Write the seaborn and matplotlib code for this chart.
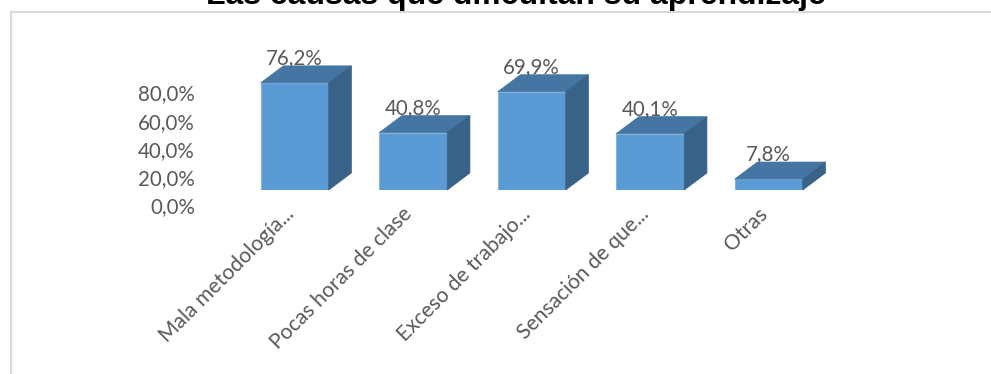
import matplotlib
matplotlib.use("Agg")
import matplotlib.pyplot as plt
from matplotlib.patches import Polygon
from matplotlib.lines import Line2D
from matplotlib.transforms import ScaledTranslation
import seaborn as sns

# Data
categories = ["Mala metodología...", "Pocas horas de clase", "Exceso de trabajo...",
              "Sensación de que...", "Otras"]
values = [76.2, 40.8, 69.9, 40.1, 7.8]
y_ticks = [0, 20, 40, 60, 80]
title = "Las causas que dificultan su aprendizaje"

# Colours
FRONT = "#5B9BD5"
TOP = "#4575A3"
SIDE = "#396289"
EDGE = "#86B3DE"
TEXT = "#595959"

W, H, DPI = 991, 374, 100
sns.set_theme(style="white")
plt.rcParams["font.family"] = ["Lato", "DejaVu Sans"]

fig = plt.figure(figsize=(W / DPI, H / DPI), dpi=DPI)
fig.patch.set_facecolor("white")

# plot box in pixels
left_px, right_px = 235.45, 828.0
base_px, px_per_pct = 190.0, 1.406
box_h = 100 * px_per_pct

ax = fig.add_axes([left_px / W, (H - base_px) / H, (right_px - left_px) / W, box_h / H])
ax.set_facecolor("none")

sns.barplot(x=categories, y=values, color=FRONT, saturation=1, width=0.574,
            edgecolor=EDGE, linewidth=0.8, ax=ax)
ax.set_xlim(-0.5, len(categories) - 0.5)
ax.set_ylim(0, 100)
for s in ax.spines.values():
    s.set_visible(False)
ax.set_yticks([])
ax.set_xlabel("")
ax.set_ylabel("")

# depth of the 3D boxes, in pixels -> data units
DEPTH_X_PX, DEPTH_Y_PX = 22.7, 17.0
x_unit_px = (right_px - left_px) / len(categories)
dx = DEPTH_X_PX / x_unit_px
dy = DEPTH_Y_PX / px_per_pct

for bar, v in zip(ax.patches, values):
    x0 = bar.get_x()
    x1 = x0 + bar.get_width()
    h = bar.get_height()
    top = Polygon([(x0, h), (x1, h), (x1 + dx, h + dy), (x0 + dx, h + dy)],
                  closed=True, facecolor=TOP, edgecolor=TOP, linewidth=0.5,
                  clip_on=False, zorder=3)
    side = Polygon([(x1, 0), (x1 + dx, dy), (x1 + dx, h + dy), (x1, h)],
                   closed=True, facecolor=SIDE, edgecolor=SIDE, linewidth=0.5,
                   clip_on=False, zorder=3)
    ax.add_patch(top)
    ax.add_patch(side)
    label = f"{v:.1f}%".replace(".", ",")
    ax.annotate(label, xy=(x0 + bar.get_width() / 2, h),
                xytext=(0, (DEPTH_Y_PX + 2) * 72 / DPI), textcoords="offset points",
                ha="center", va="baseline", fontsize=14.8, color=TEXT,
                annotation_clip=False, zorder=4)

# category labels
ax.tick_params(axis="x", length=0, pad=21 * 72 / DPI, colors=TEXT)
ax.set_xticks(range(len(categories)))
ax.set_xticklabels(categories, rotation=45, ha="right", va="center",
                   rotation_mode="anchor", fontsize=15.2, color=TEXT)
shift = ScaledTranslation(-4 / DPI, 0, fig.dpi_scale_trans)
for t in ax.get_xticklabels():
    t.set_transform(t.get_transform() + shift)

# value axis labels, set on the back wall
axv = fig.add_axes([left_px / W, (H - 205) / H, (right_px - left_px) / W, box_h / H])
axv.set_facecolor("none")
axv.set_ylim(0, 100)
axv.set_xticks([])
axv.set_yticks(y_ticks)
axv.set_yticklabels([f"{t:.1f}%".replace(".", ",") for t in y_ticks],
                    fontsize=14.8, color=TEXT)
axv.tick_params(axis="y", length=0, pad=(left_px - 195) * 72 / DPI)
for s in axv.spines.values():
    s.set_visible(False)

# chart frame
fig.add_artist(Line2D([10.5 / W, 10.5 / W], [0, 1 - 11.5 / H], color="#D9D9D9",
                      linewidth=1.5, transform=fig.transFigure))
fig.add_artist(Line2D([10.5 / W, 1], [1 - 11.5 / H, 1 - 11.5 / H], color="#D9D9D9",
                      linewidth=1.5, transform=fig.transFigure))

fig.text(516 / W, 1 - 4 / H, title, ha="center", va="baseline", fontsize=23,
         fontweight="bold", color="black", family=["Liberation Sans", "DejaVu Sans"])

fig.savefig("out.png", dpi=DPI)
